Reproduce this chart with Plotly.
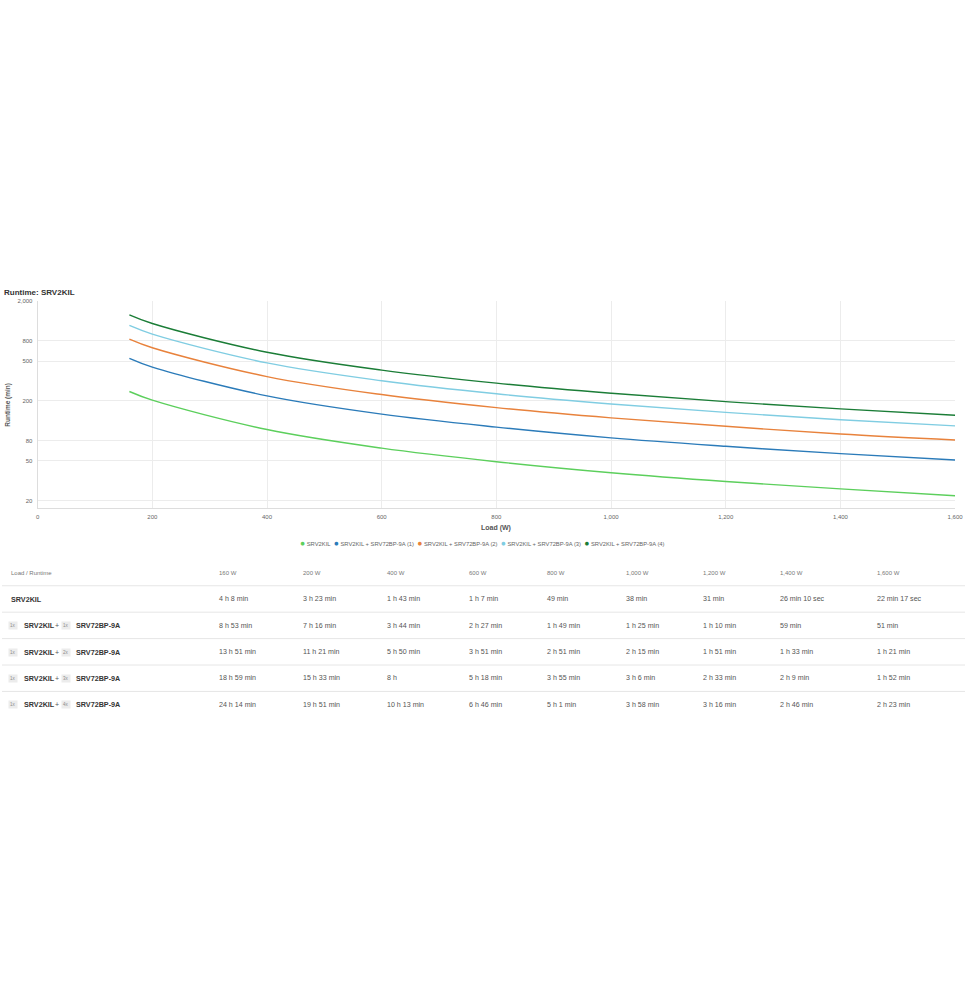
import plotly.graph_objects as go

# loads shown in the runtime table (W)
loads = [160, 200, 400, 600, 800, 1000, 1200, 1400, 1600]

series_names = [
    "SRV2KIL",
    "SRV2KIL + SRV72BP-9A (1)",
    "SRV2KIL + SRV72BP-9A (2)",
    "SRV2KIL + SRV72BP-9A (3)",
    "SRV2KIL + SRV72BP-9A (4)",
]
battery_packs = [0, 1, 2, 3, 4]

runtime_0 = ["4 h 8 min", "3 h 23 min", "1 h 43 min", "1 h 7 min", "49 min",
             "38 min", "31 min", "26 min 10 sec", "22 min 17 sec"]
runtime_1 = ["8 h 53 min", "7 h 16 min", "3 h 44 min", "2 h 27 min", "1 h 49 min",
             "1 h 25 min", "1 h 10 min", "59 min", "51 min"]
runtime_2 = ["13 h 51 min", "11 h 21 min", "5 h 50 min", "3 h 51 min", "2 h 51 min",
             "2 h 15 min", "1 h 51 min", "1 h 33 min", "1 h 21 min"]
runtime_3 = ["18 h 59 min", "15 h 33 min", "8 h", "5 h 18 min", "3 h 55 min",
             "3 h 6 min", "2 h 33 min", "2 h 9 min", "1 h 52 min"]
runtime_4 = ["24 h 14 min", "19 h 51 min", "10 h 13 min", "6 h 46 min", "5 h 1 min",
             "3 h 58 min", "3 h 16 min", "2 h 46 min", "2 h 23 min"]
runtimes = [runtime_0, runtime_1, runtime_2, runtime_3, runtime_4]

y_ticks = [20, 50, 80, 200, 500, 800, 2000]
x_ticks = [0, 200, 400, 600, 800, 1000, 1200, 1400, 1600]

colors = ["#5ccf5c", "#2b7bb9", "#e8823c", "#80cde2", "#1b7d37"]

FONT = "Liberation Sans, Arial, sans-serif"
W, H = 973, 1000


def to_minutes(s):
    parts = s.split()
    mult = {"h": 60.0, "min": 1.0, "sec": 1 / 60.0}
    total = 0.0
    for i in range(0, len(parts), 2):
        total += float(parts[i]) * mult[parts[i + 1]]
    return total


def px(x):
    return x / W


def py(y):
    return 1 - y / H


fig = go.Figure()

for name, rt, c in zip(series_names, runtimes, colors):
    fig.add_trace(go.Scatter(
        x=loads,
        y=[to_minutes(v) for v in rt],
        mode="lines",
        name=name,
        line=dict(color=c, width=1.4, shape="spline", smoothing=1),
        showlegend=False,
    ))

annotations = []
shapes = []

# title + axis titles
annotations.append(dict(text="<b>Runtime: SRV2KIL</b>", x=0, y=py(290), xref="paper", yref="paper",
                        xanchor="left", yanchor="middle", showarrow=False,
                        font=dict(size=8, color="#333333")))
annotations.append(dict(text="<b>Load (W)</b>", x=px(499), y=py(527), xref="paper", yref="paper",
                        xanchor="center", yanchor="middle", showarrow=False,
                        font=dict(size=7, color="#555555")))
annotations.append(dict(text="<b>Runtime (min)</b>", x=px(6), y=py(403), xref="paper", yref="paper",
                        xanchor="center", yanchor="middle", showarrow=False, textangle=-90,
                        font=dict(size=6.5, color="#555555")))

# legend as a single centered line of coloured dots
legend_text = "&nbsp;&nbsp;".join(
    f'<span style="color:{c}; font-size:8.5px">●</span> {n}' for n, c in zip(series_names, colors))
annotations.append(dict(text=legend_text, x=px(485), y=py(542), xref="paper", yref="paper",
                        xanchor="center", yanchor="middle", showarrow=False,
                        font=dict(size=5.8, color="#666666")))

# runtime table
col_x = [7, 217, 302, 387, 470, 549, 628, 706, 784, 882]
header_y = 572
row_y0 = 598
row_step = 26.5

annotations.append(dict(text="Load / Runtime", x=px(col_x[0]), y=py(header_y), xref="paper", yref="paper",
                        xanchor="left", yanchor="middle", showarrow=False,
                        font=dict(size=6, color="#777777")))
for cx, ld in zip(col_x[1:], loads):
    annotations.append(dict(text=f"{ld:,} W", x=px(cx), y=py(header_y), xref="paper", yref="paper",
                            xanchor="left", yanchor="middle", showarrow=False,
                            font=dict(size=6, color="#777777")))

for i, (packs, rt) in enumerate(zip(battery_packs, runtimes)):
    ry = row_y0 + i * row_step
    shapes.append(dict(type="line", xref="paper", yref="paper", x0=0, x1=1,
                       y0=py(ry - 13.5), y1=py(ry - 13.5),
                       line=dict(color="#e6e6e6", width=1)))
    if packs == 0:
        annotations.append(dict(text="<b>SRV2KIL</b>", x=px(7), y=py(ry), xref="paper", yref="paper",
                                xanchor="left", yanchor="middle", showarrow=False,
                                font=dict(size=7.2, color="#333333")))
    else:
        for bx, btxt in [(11, "1x"), (64.5, f"{packs}x")]:
            annotations.append(dict(text=btxt, x=px(bx), y=py(ry), xref="paper", yref="paper",
                                    xanchor="center", yanchor="middle", showarrow=False,
                                    bgcolor="#ececec", borderpad=1,
                                    font=dict(size=4.5, color="#8a8a8a")))
        annotations.append(dict(text="<b>SRV2KIL</b>", x=px(20), y=py(ry), xref="paper", yref="paper",
                                xanchor="left", yanchor="middle", showarrow=False,
                                font=dict(size=7.2, color="#333333")))
        annotations.append(dict(text="+", x=px(56), y=py(ry), xref="paper", yref="paper",
                                xanchor="center", yanchor="middle", showarrow=False,
                                font=dict(size=7, color="#555555")))
        annotations.append(dict(text="<b>SRV72BP-9A</b>", x=px(73), y=py(ry), xref="paper", yref="paper",
                                xanchor="left", yanchor="middle", showarrow=False,
                                font=dict(size=7.2, color="#333333")))
    for cx, v in zip(col_x[1:], rt):
        annotations.append(dict(text=v, x=px(cx), y=py(ry), xref="paper", yref="paper",
                                xanchor="left", yanchor="middle", showarrow=False,
                                font=dict(size=7.1, color="#555555")))

fig.update_layout(
    width=W,
    height=H,
    margin=dict(l=0, r=0, t=0, b=0),
    paper_bgcolor="white",
    plot_bgcolor="white",
    font=dict(family=FONT, color="#666666"),
    showlegend=False,
    xaxis=dict(
        domain=[px(36), px(963)],
        range=[0, 1600],
        tickvals=x_ticks,
        ticktext=[f"{t:,}" for t in x_ticks],
        tickfont=dict(size=6, color="#666666"),
        showgrid=True,
        gridcolor="#ececec",
        gridwidth=1,
        zeroline=False,
        showline=True,
        linecolor="#dddddd",
        linewidth=1,
        ticks="",
        ticklabelstandoff=2,
    ),
    yaxis=dict(
        domain=[py(507), py(299)],
        type="log",
        range=[1.221, 3.301],
        tickvals=y_ticks,
        ticktext=[f"{t:,}" for t in y_ticks],
        tickfont=dict(size=6, color="#666666"),
        showgrid=True,
        gridcolor="#ececec",
        gridwidth=1,
        zeroline=False,
        showline=True,
        linecolor="#dddddd",
        linewidth=1,
        ticks="",
        ticklabelstandoff=3,
    ),
    annotations=annotations,
    shapes=shapes,
)

# page margin off so the figure sits at the window's top-left corner, no scrollbars
fig.write_html(
    "out.html",
    config={"displayModeBar": False},
    post_script="document.body.style.margin = '0'; document.documentElement.style.overflow = 'hidden';",
)
